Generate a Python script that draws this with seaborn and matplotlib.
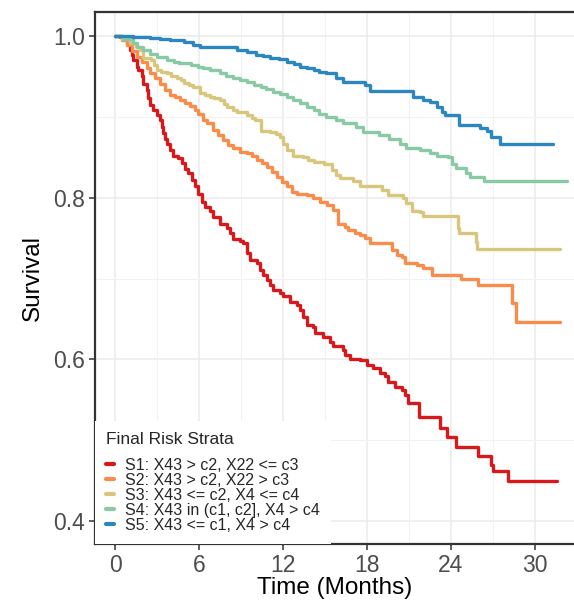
import matplotlib
matplotlib.use("Agg")
import matplotlib.pyplot as plt
from matplotlib.ticker import MultipleLocator
import seaborn as sns
import pandas as pd

labels = [
    "S1: X43 > c2, X22 <= c3",
    "S2: X43 > c2, X22 > c3",
    "S3: X43 <= c2, X4 <= c4",
    "S4: X43 in (c1, c2], X4 > c4",
    "S5: X43 <= c1, X4 > c4",
]
colors = ["#d7191c", "#f98b4b", "#d8c67c", "#89c9a5", "#2c86c0"]

s1_t = [0, 0.36, 0.6, 0.83, 1.07, 1.19, 1.31, 1.55, 1.67, 1.9, 2.02, 2.26, 2.38, 2.5, 2.74, 2.98, 3.21, 3.33,
        3.45, 3.57, 3.69, 3.93, 4.17, 4.52, 4.76, 5.0, 5.24, 5.48, 5.71, 5.95, 6.19, 6.43, 6.79, 7.02, 7.5, 7.98,
        8.21, 8.45, 8.93, 9.17, 9.4, 9.64, 10.12, 10.36, 10.6, 10.83, 11.07, 11.31, 11.79, 12.02, 12.5, 12.98,
        13.21, 13.45, 13.69, 14.17, 14.29, 14.88, 15.36, 15.6, 16.31, 16.43, 16.79, 17.5, 17.98, 18.45, 18.93,
        19.29, 19.52, 20.0, 20.48, 20.71, 20.95, 21.74, 23.21, 23.69, 24.4, 25.95, 26.9, 27.0, 28.1, 31.6]
s1_s = [1.0, 0.999, 0.997, 0.991, 0.983, 0.977, 0.970, 0.962, 0.958, 0.950, 0.941, 0.933, 0.923, 0.915, 0.908,
        0.902, 0.896, 0.888, 0.880, 0.873, 0.867, 0.859, 0.851, 0.849, 0.843, 0.836, 0.830, 0.822, 0.814, 0.805,
        0.795, 0.789, 0.783, 0.776, 0.768, 0.762, 0.756, 0.749, 0.747, 0.744, 0.731, 0.723, 0.719, 0.711, 0.704,
        0.698, 0.692, 0.686, 0.682, 0.678, 0.671, 0.667, 0.661, 0.653, 0.643, 0.640, 0.632, 0.628, 0.622, 0.616,
        0.612, 0.605, 0.601, 0.599, 0.593, 0.589, 0.583, 0.579, 0.572, 0.566, 0.562, 0.556, 0.546, 0.529, 0.515,
        0.504, 0.492, 0.480, 0.469, 0.462, 0.449, 0.449]

s2_t = [0, 0.48, 0.83, 1.19, 1.55, 1.9, 2.26, 2.5, 2.86, 3.21, 3.57, 3.93, 4.29, 4.64, 5.0, 5.36, 5.71, 5.95,
        6.31, 6.55, 7.02, 7.38, 7.74, 8.1, 8.45, 8.93, 9.4, 9.76, 10.12, 10.48, 10.83, 11.19, 11.55, 11.9, 12.26,
        12.62, 12.98, 13.69, 14.17, 14.64, 15.12, 15.6, 15.95, 16.43, 16.67, 17.14, 17.5, 17.86, 18.21, 19.76,
        20.12, 20.48, 20.71, 21.55, 22.02, 22.62, 24.76, 25.95, 28.4, 28.64, 31.8]
s2_s = [1.0, 0.995, 0.989, 0.981, 0.974, 0.968, 0.960, 0.954, 0.948, 0.941, 0.933, 0.927, 0.925, 0.921, 0.917,
        0.913, 0.908, 0.904, 0.896, 0.892, 0.884, 0.878, 0.871, 0.865, 0.861, 0.857, 0.855, 0.851, 0.847, 0.843,
        0.838, 0.832, 0.826, 0.820, 0.814, 0.807, 0.805, 0.803, 0.799, 0.795, 0.791, 0.785, 0.768, 0.764, 0.760,
        0.756, 0.754, 0.750, 0.744, 0.735, 0.729, 0.727, 0.719, 0.717, 0.713, 0.704, 0.699, 0.692, 0.670, 0.646,
        0.646]

s3_t = [0, 0.5, 1.1, 1.5, 1.8, 2.0, 2.6, 2.8, 3.0, 3.3, 3.7, 4.0, 4.4, 4.7, 4.9, 5.3, 5.6, 6.1, 6.4, 6.8, 7.1,
        7.5, 7.8, 8.0, 8.4, 8.7, 9.4, 9.8, 10.0, 10.4, 11.1, 11.5, 11.8, 12.0, 12.3, 12.7, 13.4, 13.8, 14.2, 14.9,
        15.5, 15.8, 16.1, 17.0, 17.5, 19.1, 19.5, 20.6, 20.8, 21.2, 21.8, 22.0, 24.5, 24.6, 25.8, 25.9, 31.8]
s3_s = [1.0, 0.996, 0.991, 0.987, 0.983, 0.973, 0.970, 0.964, 0.958, 0.956, 0.954, 0.951, 0.948, 0.945, 0.942,
        0.940, 0.937, 0.929, 0.927, 0.924, 0.923, 0.921, 0.916, 0.912, 0.909, 0.906, 0.902, 0.899, 0.896, 0.883,
        0.881, 0.879, 0.875, 0.867, 0.859, 0.852, 0.850, 0.847, 0.844, 0.842, 0.834, 0.828, 0.824, 0.821, 0.815,
        0.809, 0.803, 0.799, 0.793, 0.784, 0.782, 0.777, 0.763, 0.756, 0.745, 0.736, 0.736]

s4_t = [0, 0.6, 1.3, 1.6, 2.0, 2.5, 3.0, 3.7, 4.2, 4.6, 5.4, 5.9, 6.3, 6.8, 7.5, 7.9, 8.4, 8.9, 9.4, 9.9, 10.4,
        10.8, 11.3, 11.8, 12.3, 12.7, 13.2, 13.7, 14.2, 14.6, 15.1, 15.8, 16.3, 17.2, 17.7, 18.9, 19.6, 20.4,
        20.8, 21.8, 22.5, 23.0, 23.8, 24.1, 24.4, 25.1, 25.4, 26.4, 32.3]
s4_s = [1.0, 0.996, 0.991, 0.987, 0.983, 0.978, 0.974, 0.970, 0.968, 0.966, 0.964, 0.962, 0.960, 0.958, 0.954,
        0.951, 0.948, 0.946, 0.943, 0.940, 0.937, 0.934, 0.931, 0.928, 0.924, 0.921, 0.917, 0.912, 0.908, 0.904,
        0.900, 0.896, 0.892, 0.887, 0.881, 0.877, 0.873, 0.867, 0.862, 0.859, 0.855, 0.852, 0.850, 0.842, 0.837,
        0.830, 0.826, 0.821, 0.821]

s5_t = [0, 1.3, 2.5, 3.2, 3.9, 4.9, 5.6, 6.1, 8.7, 9.4, 10.1, 10.6, 11.1, 11.7, 12.3, 12.8, 13.2, 13.7, 14.2,
        14.6, 15.1, 15.8, 16.3, 17.9, 18.2, 21.3, 22.0, 22.5, 23.0, 23.4, 23.6, 24.6, 26.1, 26.6, 26.9, 27.5,
        31.3]
s5_s = [1.0, 0.999, 0.998, 0.996, 0.995, 0.993, 0.989, 0.986, 0.983, 0.980, 0.976, 0.975, 0.973, 0.971, 0.968,
        0.965, 0.962, 0.960, 0.958, 0.956, 0.954, 0.948, 0.943, 0.939, 0.932, 0.924, 0.921, 0.918, 0.912, 0.906,
        0.902, 0.890, 0.886, 0.883, 0.875, 0.866, 0.866]

times = [s1_t, s2_t, s3_t, s4_t, s5_t]
survs = [s1_s, s2_s, s3_s, s4_s, s5_s]

frames = []
for lab, t, s in zip(labels, times, survs):
    frames.append(pd.DataFrame({"time": t, "surv": s, "strata": lab}))
df = pd.concat(frames, ignore_index=True)

sns.set_theme(style="white")
plt.rcParams["font.family"] = ["Liberation Sans", "DejaVu Sans"]

fig = plt.figure(figsize=(5.74, 6.01), dpi=100)
ax = fig.add_axes([95 / 574, 1 - 544 / 601, 1 - 95 / 574, (544 - 12) / 601])

sns.lineplot(data=df, x="time", y="surv", hue="strata", hue_order=labels,
             palette=colors, estimator=None, drawstyle="steps-post",
             linewidth=2.4, ax=ax)

ax.set_xlim(-1.43, 32.8)
ax.set_ylim(0.3716, 1.0297)
ax.xaxis.set_major_locator(MultipleLocator(6))
ax.xaxis.set_minor_locator(MultipleLocator(3))
ax.yaxis.set_minor_locator(MultipleLocator(0.1))
ax.set_yticks([0.4, 0.6, 0.8, 1.0])
ax.set_yticklabels(["0.4", "0.6", "0.8", "1.0"])
ax.grid(True, which="major", color="#ebebeb", linewidth=1.1)
ax.grid(True, which="minor", color="#f2f2f2", linewidth=0.8)
ax.set_axisbelow(True)

for side in ["left", "bottom", "top"]:
    ax.spines[side].set_visible(True)
    ax.spines[side].set_color("#333333")
    ax.spines[side].set_linewidth(1.6)
ax.spines["right"].set_visible(False)

ax.tick_params(axis="both", which="major", length=4, width=1.1, color="#333333",
               labelsize=16.5, labelcolor="#4d4d4d", direction="out", pad=3,
               bottom=True, left=True)
ax.tick_params(axis="both", which="minor", length=0)

ax.set_xlabel("Time (Months)", fontsize=17.5, color="black", labelpad=0)
ax.set_ylabel("Survival", fontsize=17.5, color="black", labelpad=7)

leg = ax.legend(title="Final Risk Strata", loc="lower left", bbox_to_anchor=(0.0, 0.0),
                frameon=True, fancybox=False, framealpha=1, facecolor="white",
                edgecolor="white", fontsize=11.5, title_fontsize=12.5,
                handlelength=0.5, handletextpad=0.7, labelspacing=0.0,
                borderpad=0.7, borderaxespad=0.0, alignment="left")
leg._legend_box.sep = 8
for h in leg.get_lines():
    h.set_linewidth(3)
leg.get_frame().set_linewidth(0)

fig.savefig("out.png", dpi=100)
